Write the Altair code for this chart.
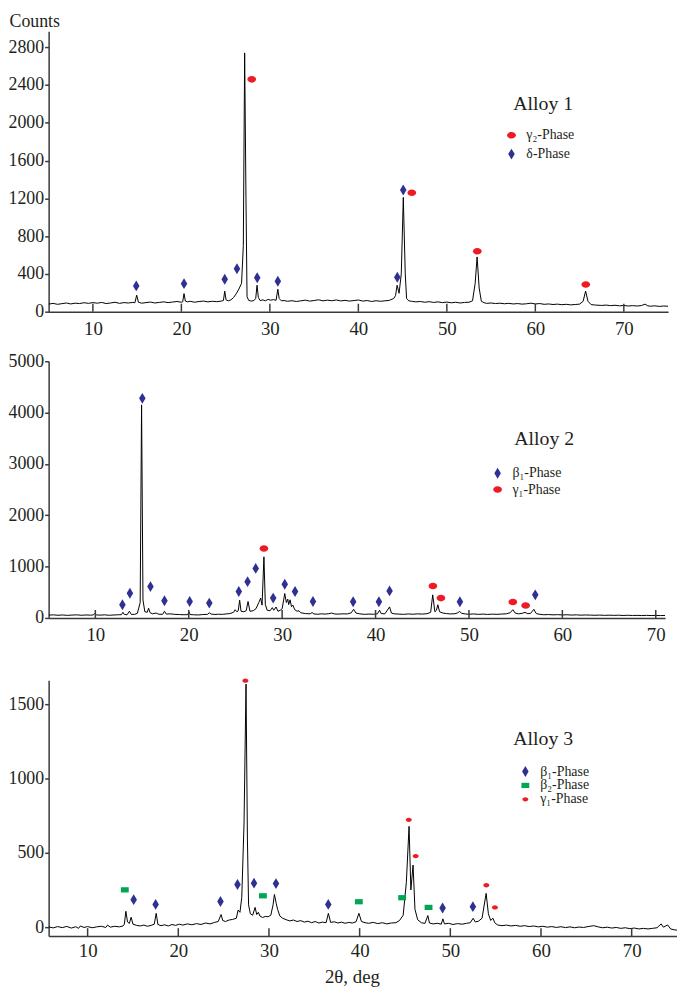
import altair as alt
import pandas as pd

FONT = "Liberation Serif"
INK = "#231F20"
AXIS_C = "#3a3a3a"
RED = "#ED1C24"
BLUE = "#2E3192"
GREEN = "#00A651"

XTICKS = [10, 20, 30, 40, 50, 60, 70]

# ---------------- Alloy 1 ----------------
TRACE1 = [
    (5.0, 80), (5.5, 88), (6.0, 78), (6.5, 85), (7.0, 92), (7.5, 82), (8.0, 90), (8.5, 86),
    (9.0, 95), (9.5, 88), (10.0, 96), (10.5, 90), (11.0, 98), (11.5, 86), (12.0, 92), (12.5, 100),
    (13.0, 88), (13.5, 96), (14.0, 92), (14.5, 98), (14.75, 95), (14.95, 175), (15.15, 100),
    (15.5, 90), (16.0, 96), (16.5, 102), (17.0, 92), (17.5, 98), (18.0, 104), (18.5, 96),
    (19.0, 102), (19.5, 108), (20.0, 100), (20.15, 105), (20.3, 192), (20.45, 112), (20.7, 104),
    (21.0, 110), (21.5, 100), (22.0, 108), (22.5, 112), (23.0, 104), (23.5, 110), (24.0, 106),
    (24.5, 112), (24.75, 118), (24.9, 217), (25.05, 125), (25.3, 115), (25.6, 125), (25.9, 150),
    (26.2, 190), (26.5, 240), (26.8, 300), (27.0, 700), (27.15, 2740), (27.3, 1200), (27.42, 160),
    (27.6, 120), (27.9, 112), (28.2, 118), (28.4, 140), (28.55, 280), (28.7, 150), (28.9, 118),
    (29.2, 125), (29.5, 115), (29.8, 130), (30.1, 122), (30.4, 128), (30.7, 120), (30.9, 238),
    (31.05, 140), (31.3, 115), (31.6, 118), (32.0, 110), (32.5, 116), (33.0, 108), (33.5, 115),
    (34.0, 122), (34.5, 112), (35.0, 118), (35.5, 126), (36.0, 115), (36.5, 122), (37.0, 116),
    (37.5, 124), (38.0, 114), (38.5, 120), (39.0, 112), (39.5, 118), (40.0, 124), (40.5, 112),
    (41.0, 118), (41.5, 108), (42.0, 116), (42.5, 110), (43.0, 115), (43.5, 120), (44.0, 140),
    (44.2, 170), (44.38, 280), (44.6, 195), (44.85, 400), (45.08, 1210), (45.3, 400), (45.45, 140),
    (45.7, 115), (46.0, 110), (46.5, 104), (47.0, 108), (47.5, 100), (48.0, 106), (48.5, 98),
    (49.0, 104), (49.5, 96), (50.0, 102), (50.5, 94), (51.0, 100), (51.5, 92), (52.0, 98),
    (52.5, 100), (52.9, 115), (53.2, 300), (53.42, 580), (53.65, 250), (53.9, 110), (54.2, 95),
    (54.5, 88), (55.0, 92), (55.5, 86), (56.0, 90), (56.5, 84), (57.0, 88), (57.5, 82), (58.0, 86),
    (58.5, 80), (59.0, 84), (59.5, 90), (60.0, 82), (60.5, 86), (61.0, 78), (61.5, 82), (62.0, 76),
    (62.5, 80), (63.0, 74), (63.5, 78), (64.0, 72), (64.5, 76), (65.0, 80), (65.4, 110),
    (65.68, 218), (65.95, 110), (66.3, 75), (66.8, 70), (67.5, 66), (68.0, 70), (68.5, 64),
    (69.0, 68), (69.5, 62), (70.0, 66), (70.5, 60), (71.0, 64), (71.5, 60), (72.0, 65), (72.4, 80),
    (72.7, 62), (73.0, 58), (73.5, 62), (74.0, 56), (74.5, 60), (75.0, 58),
]
M1_X = [14.9, 20.3, 24.9, 26.28, 28.57, 30.9, 44.4, 45.07, 27.95, 46.04, 53.44, 65.7]
M1_Y = [273, 297, 343, 455, 360, 322, 364, 1288, 2460, 1260, 640, 287]
M1_P = ["δ-Phase"] * 8 + ["γ₂-Phase"] * 4
P1_ORDER = ["γ₂-Phase", "δ-Phase"]

# ---------------- Alloy 2 ----------------
TRACE2 = [
    (5.0, 55), (5.5, 60), (6.0, 52), (6.5, 58), (7.0, 50), (7.5, 56), (8.0, 60), (8.5, 52),
    (9.0, 58), (9.5, 54), (9.8, 60), (9.95, 90), (10.1, 58), (10.5, 55), (11.0, 60), (11.5, 52),
    (12.0, 58), (12.5, 62), (12.8, 65), (12.95, 110), (13.1, 68), (13.4, 62), (13.65, 130),
    (13.85, 68), (14.2, 70), (14.5, 90), (14.8, 300), (14.95, 4150), (15.1, 350), (15.3, 120),
    (15.55, 110), (15.7, 190), (15.85, 105), (16.1, 80), (16.5, 95), (16.8, 72), (17.2, 70),
    (17.4, 130), (17.6, 75), (18.0, 80), (18.5, 70), (19.0, 66), (19.5, 62), (19.9, 64),
    (20.02, 120), (20.15, 66), (20.5, 62), (21.0, 58), (21.5, 66), (22.0, 70), (22.2, 100),
    (22.4, 75), (22.8, 68), (23.2, 72), (23.6, 70), (24.0, 78), (24.4, 85), (24.8, 110),
    (24.97, 160), (25.15, 120), (25.3, 140), (25.45, 345), (25.6, 130), (25.9, 120), (26.15, 140),
    (26.35, 320), (26.55, 130), (26.9, 140), (27.2, 180), (27.5, 300), (27.7, 386), (27.85, 250),
    (28.05, 1190), (28.2, 260), (28.4, 150), (28.7, 140), (28.95, 200), (29.1, 150), (29.35, 213),
    (29.55, 130), (29.8, 150), (30.0, 180), (30.28, 476), (30.45, 300), (30.6, 366), (30.7, 260),
    (30.85, 353), (31.0, 220), (31.15, 250), (31.35, 160), (31.6, 130), (31.8, 140), (32.0, 100),
    (32.5, 85), (33.0, 80), (33.2, 105), (33.4, 78), (33.8, 72), (34.2, 80), (34.6, 75), (35.0, 82),
    (35.3, 95), (35.6, 78), (36.0, 74), (36.5, 80), (37.0, 78), (37.4, 100), (37.65, 168),
    (37.9, 95), (38.3, 80), (38.8, 70), (39.3, 75), (39.8, 72), (40.2, 80), (40.43, 150),
    (40.6, 85), (41.0, 80), (41.5, 215), (41.7, 95), (42.0, 80), (42.5, 75), (43.0, 70), (43.5, 78),
    (44.0, 72), (44.5, 80), (45.0, 75), (45.5, 82), (45.9, 110), (46.12, 450), (46.35, 120),
    (46.52, 150), (46.67, 257), (46.85, 120), (47.2, 95), (47.6, 85), (48.0, 78), (48.5, 82),
    (48.8, 100), (49.0, 128), (49.2, 90), (49.6, 78), (50.0, 72), (50.5, 78), (51.0, 70),
    (51.5, 75), (52.0, 68), (52.5, 74), (53.0, 70), (53.5, 76), (54.0, 80), (54.4, 100),
    (54.7, 160), (54.95, 95), (55.3, 80), (55.7, 90), (56.0, 108), (56.3, 82), (56.6, 90),
    (56.95, 168), (57.2, 85), (57.6, 70), (58.0, 62), (58.5, 66), (59.0, 60), (59.5, 64),
    (60.0, 58), (60.5, 62), (61.0, 56), (61.5, 60), (62.0, 54), (62.5, 58), (63.0, 55), (63.5, 52),
    (64.0, 56), (64.5, 50), (65.0, 54), (65.5, 50), (66.0, 53), (66.5, 48), (67.0, 52), (67.5, 48),
    (68.0, 50), (68.5, 46), (69.0, 50), (69.5, 47), (70.0, 49), (70.5, 46), (71.0, 48),
]
M2_X = [12.9, 13.7, 15.03, 15.9, 17.4, 20.1, 22.2, 25.36, 26.3, 27.17, 29.04, 30.28, 31.38,
        33.3, 37.6, 40.36, 41.5, 49.03, 57.1, 28.05, 46.14, 47.0, 54.7, 56.07]
M2_Y = [257, 482, 4277, 610, 334, 320, 289, 514, 707, 965, 386, 656, 514,
        320, 315, 315, 527, 315, 450, 1351, 623, 386, 309, 244]
M2_P = ["β₁-Phase"] * 19 + ["γ₁-Phase"] * 5
P2_ORDER = ["β₁-Phase", "γ₁-Phase"]

# ---------------- Alloy 3 ----------------
TRACE3 = [
    (5.7, 2), (6.2, -5), (6.7, 4), (7.2, -3), (7.7, 5), (8.2, -6), (8.7, 3), (9.0, -8), (9.2, 8),
    (9.6, -2), (10.0, 4), (10.5, -4), (11.0, 2), (11.5, 6), (12.0, -2), (12.2, 14), (12.5, 0),
    (13.0, 6), (13.5, 2), (13.9, 8), (14.05, 20), (14.22, 107), (14.4, 35), (14.6, 25),
    (14.8, 67), (15.0, 20), (15.4, 12), (15.8, 8), (16.2, 14), (16.6, 6), (17.0, 12), (17.35, 20),
    (17.56, 93), (17.75, 18), (18.1, 10), (18.5, 16), (18.9, 8), (19.3, 18), (19.7, 12),
    (20.1, 20), (20.5, 14), (21.0, 22), (21.5, 16), (22.0, 24), (22.5, 18), (23.0, 28),
    (23.5, 22), (24.0, 32), (24.4, 38), (24.72, 85), (24.9, 45), (25.2, 38), (25.6, 48),
    (26.0, 52), (26.4, 60), (26.6, 115), (26.8, 100), (27.0, 200), (27.25, 700), (27.47, 1635),
    (27.62, 600), (27.75, 150), (27.95, 90), (28.2, 80), (28.47, 133), (28.65, 85), (28.83, 100),
    (29.0, 75), (29.3, 65), (29.6, 72), (29.9, 70), (30.2, 80), (30.45, 150), (30.6, 220),
    (30.8, 160), (30.95, 120), (31.2, 75), (31.5, 60), (31.9, 50), (32.3, 42), (32.7, 48),
    (33.1, 38), (33.5, 44), (33.9, 34), (34.3, 40), (34.7, 30), (35.1, 38), (35.5, 28), (35.9, 34),
    (36.3, 30), (36.55, 93), (36.8, 32), (37.2, 36), (37.6, 28), (38.0, 34), (38.4, 26),
    (38.8, 32), (39.2, 28), (39.6, 36), (39.92, 93), (40.2, 38), (40.6, 30), (41.0, 26),
    (41.5, 32), (42.0, 24), (42.5, 30), (43.0, 22), (43.5, 28), (44.0, 30), (44.4, 45),
    (44.8, 80), (45.15, 300), (45.45, 678), (45.65, 250), (45.89, 418), (46.1, 120), (46.4, 50),
    (46.8, 30), (47.2, 25), (47.52, 78), (47.7, 28), (48.1, 22), (48.6, 26), (49.0, 20),
    (49.18, 56), (49.35, 22), (49.8, 26), (50.3, 18), (50.8, 24), (51.3, 20), (51.8, 26),
    (52.2, 30), (52.52, 60), (52.75, 35), (53.1, 40), (53.5, 60), (53.95, 227), (54.2, 90),
    (54.45, 45), (54.7, 60), (54.9, 30), (55.2, 15), (55.7, 10), (56.2, 14), (56.7, 8), (57.2, 12),
    (57.7, 6), (58.2, 10), (58.7, 4), (59.2, 8), (59.7, 2), (60.2, 6), (60.7, 0), (61.2, 4),
    (61.7, -2), (62.2, 3), (62.7, -3), (63.2, 2), (63.7, -4), (64.2, 1), (64.7, -2), (65.2, 4),
    (65.8, 10), (66.3, 2), (66.8, -4), (67.3, 0), (67.8, -6), (68.3, -2), (68.8, -8), (69.3, -4),
    (69.8, -10), (70.3, -6), (70.8, -12), (71.3, -8), (71.8, -12), (72.3, -8), (72.8, -4),
    (73.25, 22), (73.5, 0), (73.97, 15), (74.3, -12), (74.7, -18), (75.0, -20),
]
M3_X = [15.08, 17.5, 24.65, 26.53, 28.35, 30.77, 36.54, 49.15, 52.49,
        14.1, 29.33, 39.91, 44.69, 47.6,
        27.4, 45.42, 46.18, 53.97, 54.92]
M3_Y = [185, 153, 173, 287, 296, 293, 153, 129, 138,
        251, 211, 171, 198, 133,
        1658, 722, 478, 282, 133]
M3_P = ["β₁-Phase"] * 9 + ["β₂-Phase"] * 5 + ["γ₁-Phase"] * 5
P3_ORDER = ["β₁-Phase", "β₂-Phase", "γ₁-Phase"]

ALLOYS = ["Alloy 1", "Alloy 2", "Alloy 3"]

DIAMOND = "M0,-1L0.6,0L0,1L-0.6,0Z"
ELLIPSE = "M-0.8,0A0.8,0.6 0 1,1 0.8,0A0.8,0.6 0 1,1 -0.8,0Z"
SMALL_ELLIPSE = "M-0.55,0A0.55,0.4 0 1,1 0.55,0A0.55,0.4 0 1,1 -0.55,0Z"
RECT = "M-0.72,-0.48L0.72,-0.48L0.72,0.48L-0.72,0.48Z"


def panel(trace, mx, my, mp, order, shapes, colors, xdom, ydom, yvals, w, h,
          alloy, alloy_xy, leg_xy, row_pad, ytitle=False, xtitle=False):
    df = pd.DataFrame(trace, columns=["theta", "counts"])
    dm = pd.DataFrame({"theta": mx, "counts": my, "phase": mp})
    dt = pd.DataFrame({"theta": XTICKS})
    da = pd.DataFrame({"label": [alloy]})

    xscale = alt.Scale(domain=xdom, nice=False, zero=False)
    yscale = alt.Scale(domain=ydom, nice=False, zero=False)

    xkw = dict(values=XTICKS, ticks=False, labelPadding=8, labelFontSize=19,
               domainWidth=1.5, grid=False)
    if xtitle:
        xkw.update(title="2θ, deg", titleFont=FONT, titleFontSize=19, labelPadding=6,
                   titleFontWeight="normal", titleColor=INK, titleX=306, titleY=41,
                   titleAlign="center", titleBaseline="middle")
    else:
        xkw.update(title=None)
    xaxis = alt.Axis(**xkw)

    ykw = dict(values=yvals, tickSize=4, labelPadding=1, labelFontSize=18,
               domainWidth=1.5, grid=False, format="d")
    if ytitle:
        ykw.update(title="Counts", titleFont=FONT, titleFontSize=18,
                   titleFontWeight="normal", titleColor=INK, titleAngle=0,
                   titleAlign="left", titleBaseline="alphabetic", titleX=-40, titleY=-5)
    else:
        ykw.update(title=None)
    yaxis = alt.Axis(**ykw)

    X = alt.X("theta:Q", scale=xscale, axis=xaxis)
    Y = alt.Y("counts:Q", scale=yscale, axis=yaxis)

    line = alt.Chart(df).mark_line(color="black", strokeWidth=1, clip=True).encode(x=X, y=Y)

    ticks = alt.Chart(dt).mark_rule(color=AXIS_C, strokeWidth=1.5).encode(
        x=X, y=alt.value(h), y2=alt.value(h - 8))

    legend = alt.Legend(orient="none", legendX=leg_xy[0], legendY=leg_xy[1], title=None,
                        labelFont=FONT, labelFontSize=14, labelColor=INK,
                        symbolSize=121, labelOffset=8, rowPadding=row_pad, padding=0,
                        symbolStrokeWidth=0)
    pts = alt.Chart(dm).mark_point(filled=True, opacity=1, size=121, strokeWidth=0).encode(
        x=X, y=Y,
        shape=alt.Shape("phase:N", scale=alt.Scale(domain=order, range=shapes), legend=legend),
        color=alt.Color("phase:N", scale=alt.Scale(domain=order, range=colors), legend=legend),
    )

    label = alt.Chart(da).mark_text(font=FONT, fontSize=20, color=INK, align="center",
                                     baseline="middle").encode(
        x=alt.value(alloy_xy[0]), y=alt.value(alloy_xy[1]), text="label:N")

    return alt.layer(line, ticks, pts, label).properties(width=w, height=h)


p1 = panel(TRACE1, M1_X, M1_Y, M1_P, P1_ORDER, [ELLIPSE, DIAMOND], [RED, BLUE],
           [5, 75], [0, 2970], [0, 400, 800, 1200, 1600, 2000, 2400, 2800], 625, 283,
           ALLOYS[0], (499, 74), (460, 98), 5, ytitle=True)
p2 = panel(TRACE2, M2_X, M2_Y, M2_P, P2_ORDER, [DIAMOND, ELLIPSE], [BLUE, RED],
           [5, 71], [0, 5000], [0, 1000, 2000, 3000, 4000, 5000], 622, 259,
           ALLOYS[1], (500, 79), (446, 106), 2.5)
p3 = panel(TRACE3, M3_X, M3_Y, M3_P, P3_ORDER, [DIAMOND, RECT, SMALL_ELLIPSE],
           [BLUE, GREEN, RED],
           [5.7, 75], [-60, 1660], [0, 500, 1000, 1500], 634, 258,
           ALLOYS[2], (499, 59), (474, 85), 0, xtitle=True)

inner = alt.vconcat(p1, p2, spacing=14).resolve_scale(color="independent", shape="independent")
chart = alt.vconcat(inner, p3, spacing=34).resolve_scale(
    color="independent", shape="independent"
).properties(
    padding={"left": 0, "top": 0, "right": 0, "bottom": 0}
).configure_view(stroke=None).configure_axis(
    labelFont=FONT, labelColor=INK, domainColor=AXIS_C, tickColor=AXIS_C, tickWidth=1.5
)

chart.save("out.html", embed_options={"renderer": "svg", "actions": False})
